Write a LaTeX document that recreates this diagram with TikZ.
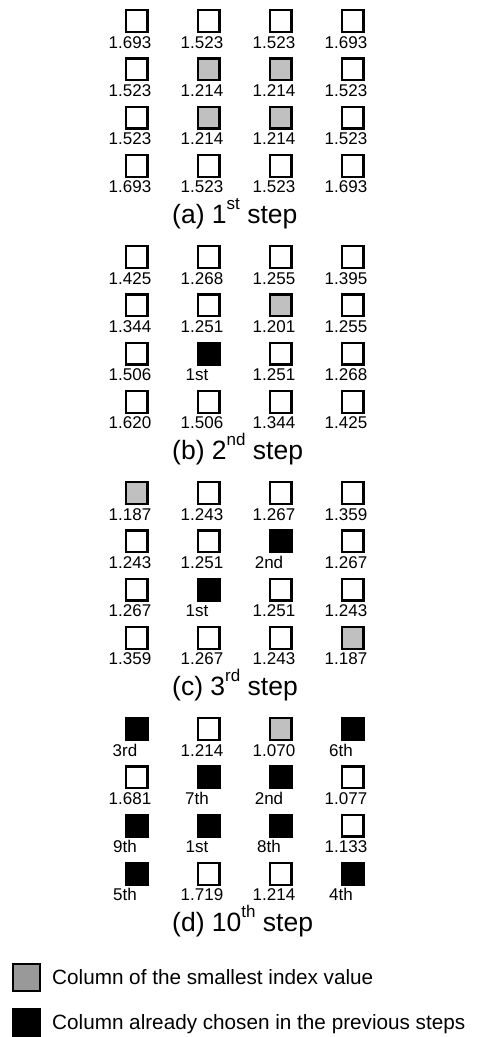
\documentclass[tikz,border=0pt]{standalone}
\usepackage{fontspec}
\setmainfont{Liberation Sans}
\usetikzlibrary{calc}
\definecolor{cellgray}{HTML}{C0C0C0}
\definecolor{leggray}{HTML}{999999}
\newcommand{\cellrow}[3]{% #1 panel, #2 row, #3 list type/value
  \foreach [count=\c] \t/\v in {#3} {
    \pgfmathsetmacro\cx{64.5+72*\c}
    \pgfmathsetmacro\cy{21+48.3*(#2-1)+\panoff}
    \def\off{-6.5}
    \if\t b\def\off{-11.5}\fi
    \node[c\t] (#1#2\c) at (\cx,\cy) {};
    \node[num] (l#1#2\c) at ($(#1#2\c.center)+(\off,27)$) {\v};
  }
}
\newcommand{\supx}[1]{\raisebox{14pt}{\fontsize{17}{17}\selectfont #1}}
\begin{document}
\begin{tikzpicture}[x=1pt,y=-1pt,
  cw/.style={draw=black, line width=2.2pt, minimum size=21.8pt, inner sep=0pt, fill=white},
  cg/.style={cw, fill=cellgray},
  cb/.style={cw, fill=black},
  num/.style={font=\fontsize{17}{17}\selectfont, anchor=base, inner sep=0pt},
  captext/.style={font=\fontsize{26.5}{27}\selectfont, anchor=base west, inner sep=0pt},
  leg/.style={font=\fontsize{20.7}{21}\selectfont, anchor=base west, inner sep=0pt},
  legbox/.style={draw=black, line width=2pt, minimum size=27pt, inner sep=0pt}]
\useasboundingbox (0,0) rectangle (481,1037);
% (a)
\def\panoff{0}
\cellrow{a}{1}{w/1.693,w/1.523,w/1.523,w/1.693}
\cellrow{a}{2}{w/1.523,g/1.214,g/1.214,w/1.523}
\cellrow{a}{3}{w/1.523,g/1.214,g/1.214,w/1.523}
\cellrow{a}{4}{w/1.693,w/1.523,w/1.523,w/1.693}
\node[captext] (capa) at (172,223) {(a) 1\supx{st} step};
% (b)
\def\panoff{236}
\cellrow{b}{1}{w/1.425,w/1.268,w/1.255,w/1.395}
\cellrow{b}{2}{w/1.344,w/1.251,g/1.201,w/1.255}
\cellrow{b}{3}{w/1.506,b/1st,w/1.251,w/1.268}
\cellrow{b}{4}{w/1.620,w/1.506,w/1.344,w/1.425}
\node[captext] (capb) at (172,459) {(b) 2\supx{nd} step};
% (c)
\def\panoff{472}
\cellrow{c}{1}{g/1.187,w/1.243,w/1.267,w/1.359}
\cellrow{c}{2}{w/1.243,w/1.251,b/2nd,w/1.267}
\cellrow{c}{3}{w/1.267,b/1st,w/1.251,w/1.243}
\cellrow{c}{4}{w/1.359,w/1.267,w/1.243,g/1.187}
\node[captext] (capc) at (172,695) {(c) 3\supx{rd} step};
% (d)
\def\panoff{708}
\cellrow{d}{1}{b/3rd,w/1.214,g/1.070,b/6th}
\cellrow{d}{2}{w/1.681,b/7th,b/2nd,w/1.077}
\cellrow{d}{3}{b/9th,b/1st,b/8th,w/1.133}
\cellrow{d}{4}{b/5th,w/1.719,w/1.214,b/4th}
\node[captext] (capd) at (172,931) {(d) 10\supx{th} step};
% legend
\node[legbox, fill=leggray] (lg1) at (26.5,977.5) {};
\node[leg] (lt1) at (52,984) {Column of the smallest index value};
\node[legbox, fill=black] (lg2) at (26.5,1022.5) {};
\node[leg] (lt2) at (52,1029.5) {Column already chosen in the previous steps};
\end{tikzpicture}
\end{document}
